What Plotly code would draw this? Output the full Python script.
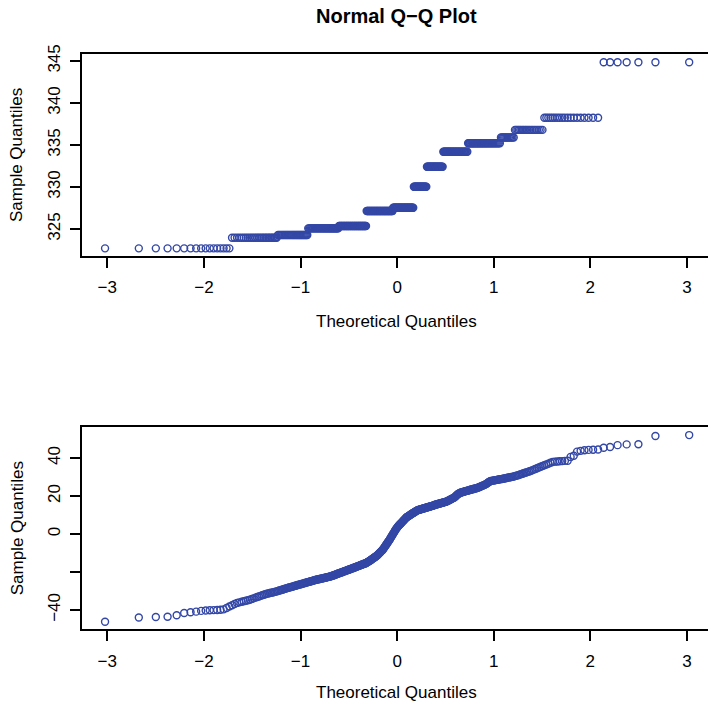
from statistics import NormalDist
import plotly.graph_objects as go

# Upper panel: sorted sample, stored as distinct levels and how often each occurs
top_levels = [322.7, 323.96, 324.29, 325.08, 325.36, 327.14, 327.54, 330.04,
              332.42, 334.2, 335.2, 335.9, 336.8, 338.25, 344.85]
top_counts = [17, 26, 28, 38, 41, 43, 34, 21, 25, 34, 36, 12, 19, 19, 7]

# Lower panel: sorted sample values (400 observations)
bottom_sample = [
    -46.2, -44.0, -43.7, -43.6, -42.8, -41.6, -41.2, -40.9, -40.5, -40.3,
    -40.2, -40.1, -40.0, -39.9, -39.7, -39.0, -38.2, -37.5, -36.9, -36.3,
    -36.0, -35.7, -35.4, -35.2, -34.9, -34.6, -34.2, -33.9, -33.5, -33.2,
    -32.9, -32.6, -32.3, -32.0, -31.7, -31.5, -31.3, -31.1, -30.9, -30.8,
    -30.6, -30.4, -30.2, -30.0, -29.8, -29.6, -29.4, -29.2, -29.0, -28.8,
    -28.6, -28.4, -28.2, -28.1, -27.9, -27.8, -27.6, -27.4, -27.3, -27.1,
    -26.9, -26.8, -26.6, -26.5, -26.3, -26.2, -26.0, -25.9, -25.7, -25.6,
    -25.4, -25.3, -25.2, -25.0, -24.9, -24.8, -24.6, -24.5, -24.3, -24.2,
    -24.1, -24.0, -23.9, -23.8, -23.7, -23.6, -23.5, -23.4, -23.3, -23.2,
    -23.1, -23.0, -22.9, -22.8, -22.7, -22.6, -22.5, -22.4, -22.3, -22.2,
    -22.0, -21.9, -21.7, -21.6, -21.4, -21.3, -21.1, -21.0, -20.8, -20.7,
    -20.6, -20.4, -20.3, -20.1, -20.0, -19.8, -19.7, -19.6, -19.4, -19.3,
    -19.2, -19.0, -18.9, -18.8, -18.6, -18.5, -18.4, -18.2, -18.1, -18.0,
    -17.8, -17.7, -17.6, -17.4, -17.3, -17.2, -17.0, -16.9, -16.8, -16.6,
    -16.5, -16.4, -16.2, -16.1, -16.0, -15.8, -15.7, -15.6, -15.5, -15.3,
    -15.1, -14.9, -14.7, -14.5, -14.3, -14.1, -13.8, -13.6, -13.4, -13.1,
    -12.9, -12.6, -12.4, -12.2, -12.0, -11.8, -11.5, -11.2, -10.9, -10.5,
    -10.2, -9.9, -9.6, -9.2, -8.9, -8.6, -8.3, -7.8, -7.3, -6.8,
    -6.3, -5.9, -5.4, -5.0, -4.5, -4.0, -3.6, -3.1, -2.5, -2.0,
    -1.5, -0.9, -0.4, 0.1, 0.6, 1.2, 1.7, 2.2, 2.7, 3.2,
    3.6, 4.0, 4.3, 4.7, 5.0, 5.4, 5.7, 6.0, 6.4, 6.7,
    7.1, 7.4, 7.7, 8.1, 8.4, 8.8, 9.0, 9.2, 9.4, 9.6,
    9.8, 10.0, 10.3, 10.5, 10.7, 10.9, 11.1, 11.3, 11.5, 11.7,
    11.9, 12.1, 12.3, 12.5, 12.6, 12.7, 12.8, 12.9, 13.0, 13.1,
    13.2, 13.3, 13.4, 13.5, 13.6, 13.7, 13.8, 13.9, 14.0, 14.1,
    14.2, 14.3, 14.4, 14.5, 14.6, 14.7, 14.8, 14.9, 15.0, 15.1,
    15.3, 15.4, 15.5, 15.6, 15.7, 15.8, 15.9, 16.0, 16.1, 16.2,
    16.3, 16.4, 16.5, 16.6, 16.7, 16.8, 16.9, 17.0, 17.2, 17.3,
    17.5, 17.7, 17.9, 18.1, 18.3, 18.5, 18.7, 18.9, 19.1, 19.3,
    19.6, 20.0, 20.4, 20.8, 21.1, 21.3, 21.5, 21.7, 21.9, 22.0,
    22.1, 22.2, 22.3, 22.5, 22.6, 22.7, 22.8, 22.9, 23.0, 23.2,
    23.3, 23.4, 23.5, 23.6, 23.8, 23.9, 24.0, 24.1, 24.3, 24.4,
    24.6, 24.8, 25.0, 25.2, 25.4, 25.6, 25.8, 26.0, 26.3, 26.6,
    27.0, 27.4, 27.7, 27.9, 28.0, 28.1, 28.2, 28.3, 28.4, 28.5,
    28.6, 28.7, 28.8, 28.9, 29.0, 29.1, 29.2, 29.4, 29.5, 29.6,
    29.8, 29.9, 30.0, 30.1, 30.3, 30.5, 30.7, 30.9, 31.1, 31.4,
    31.6, 31.9, 32.1, 32.4, 32.6, 32.9, 33.2, 33.5, 33.9, 34.2,
    34.6, 35.0, 35.4, 35.8, 36.2, 36.6, 37.0, 37.5, 37.9, 38.1,
    38.2, 38.3, 38.4, 38.5, 38.6, 40.6, 41.2, 43.4, 43.8, 44.1,
    44.3, 44.4, 44.5, 45.4, 45.8, 46.8, 47.2, 47.3, 51.6, 52.1,
]

x_ticks = [-3, -2, -1, 0, 1, 2, 3]
top_y_ticks = [325, 330, 335, 340, 345]
bottom_y_ticks = [-40, -20, 0, 20, 40]
bottom_y_labels = ["\u221240", "", "0", "20", "40"]

TITLE = "Normal Q\u2212Q Plot"
X_LABEL = "Theoretical Quantiles"
Y_LABEL = "Sample Quantiles"


def theoretical_quantiles(n):
    """Normal scores as in R's qqnorm (ppoints with a = 1/2 for n > 10)."""
    a = 3 / 8 if n <= 10 else 0.5
    nd = NormalDist()
    return [nd.inv_cdf((i + 1 - a) / (n + 1 - 2 * a)) for i in range(n)]


top_sample = [v for v, c in zip(top_levels, top_counts) for _ in range(c)]
top_theo = theoretical_quantiles(len(top_sample))
bottom_theo = theoretical_quantiles(len(bottom_sample))

W, H = 708, 703
FONT = "Liberation Sans, Arial, Helvetica, sans-serif"
POINT_COLOR = "rgb(51,71,166)"

# plot regions in pixels (left, right, top, bottom)
PX_L, PX_R = 81.7, 708.0
TOP_T, TOP_B = 54.0, 256.0
BOT_T, BOT_B = 427.3, 629.3


def px_x(px):
    return px / W


def px_y(py):
    return 1 - py / H


marker = dict(symbol="circle-open", size=7, color=POINT_COLOR,
              line=dict(width=1.4, color=POINT_COLOR))

fig = go.Figure()
fig.add_trace(go.Scatter(x=top_theo, y=top_sample, mode="markers",
                         marker=marker, xaxis="x", yaxis="y",
                         hoverinfo="x+y", showlegend=False))
fig.add_trace(go.Scatter(x=bottom_theo, y=bottom_sample, mode="markers",
                         marker=marker, xaxis="x2", yaxis="y2",
                         hoverinfo="x+y", showlegend=False))

tick_font = dict(family=FONT, size=17, color="black")
common_x = dict(
    tickmode="array", tickvals=x_ticks, ticks="outside", ticklen=10,
    tickwidth=2, tickcolor="black", showline=True, linewidth=2,
    linecolor="black", mirror=True, showgrid=False, zeroline=False,
    tickfont=tick_font, ticklabelstandoff=5, automargin=False,
    domain=[px_x(PX_L), px_x(PX_R)],
)
common_y = dict(
    ticks="outside", ticklen=10, tickwidth=2, tickcolor="black",
    showline=True, linewidth=2, linecolor="black", mirror=False,
    showgrid=False, zeroline=False, tickangle=-90,
    tickfont=tick_font, ticklabelstandoff=3, automargin=False,
)

fig.update_layout(
    width=W, height=H,
    margin=dict(l=0, r=0, t=0, b=0, autoexpand=False),
    paper_bgcolor="white", plot_bgcolor="white",
    xaxis=dict(common_x, range=[-3.265, 3.218], anchor="y"),
    yaxis=dict(common_y, range=[321.79, 345.83], tickmode="array",
               tickvals=top_y_ticks, anchor="x",
               domain=[px_y(TOP_B), px_y(TOP_T)]),
    xaxis2=dict(common_x, range=[-3.265, 3.218], anchor="y2"),
    yaxis2=dict(common_y, range=[-50.2, 56.2], tickmode="array",
                tickvals=bottom_y_ticks, ticktext=bottom_y_labels,
                anchor="x2", domain=[px_y(BOT_B), px_y(BOT_T)]),
)

label_font = dict(family=FONT, size=17, color="black")
cx = px_x((PX_L + 712.0) / 2)
annotations = [
    dict(text="<b>" + TITLE + "</b>", x=cx, y=px_y(16),
         font=dict(family=FONT, size=20, color="black")),
    dict(text=X_LABEL, x=cx, y=px_y(321), font=label_font),
    dict(text=X_LABEL, x=cx, y=px_y(692), font=label_font),
    dict(text=Y_LABEL, x=px_x(17), y=px_y((TOP_T + TOP_B) / 2),
         textangle=-90, font=label_font),
    dict(text=Y_LABEL, x=px_x(17), y=px_y((BOT_T + BOT_B) / 2),
         textangle=-90, font=label_font),
]
for a in annotations:
    a.update(xref="paper", yref="paper", showarrow=False,
             xanchor="center", yanchor="middle")
fig.update_layout(annotations=annotations)

fig.write_html("out.html")
